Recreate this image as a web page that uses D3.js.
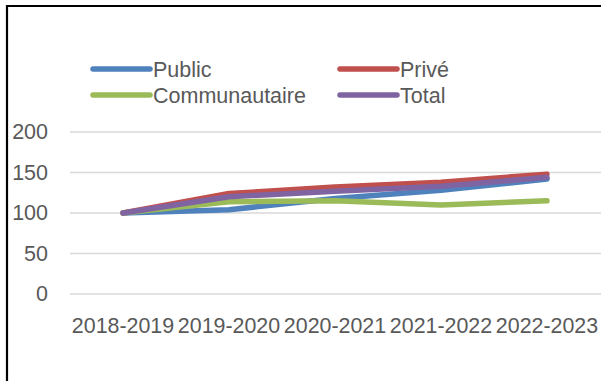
<!DOCTYPE html>
<html><head><meta charset="utf-8">
<script src="https://cdn.jsdelivr.net/npm/d3@7"></script>
<style>
html,body{margin:0;padding:0;background:#fff;}
svg{display:block;font-family:"Liberation Sans",Arial,sans-serif;}
</style></head>
<body>
<svg id="chart" width="601" height="381"></svg>
<script>
const categories = ["2018-2019","2019-2020","2020-2021","2021-2022","2022-2023"];
const seriesNames = ["Public","Privé","Communautaire","Total"];
const publicVals = [100,104,118,128,142];
const priveVals = [100,124,132,138,148];
const communautaireVals = [100,114,115,110,115];
const totalVals = [100,120,127,133,144];
const yTicks = [0,50,100,150,200];
const colors = ["#4F81BD","#C0504D","#9BBB59","#8064A2"];

const series = [publicVals, priveVals, communautaireVals, totalVals].map((v,i)=>({name:seriesNames[i], values:v, color:colors[i]}));

const svg = d3.select("#chart");
const x = d3.scaleBand().domain(categories).range([70,600]);
const y = d3.scaleLinear().domain([0,200]).range([294,132]);

// border (top & left visible)
svg.append("path").attr("d","M7,381 L7,6 L601,6").attr("fill","none").attr("stroke","#000").attr("stroke-width",2.2);

// gridlines
svg.append("g").selectAll("line").data(yTicks).join("line")
  .attr("x1",70).attr("x2",601)
  .attr("y1",d=>y(d)).attr("y2",d=>y(d))
  .attr("stroke","#d9d9d9").attr("stroke-width",1.5);

// y axis labels
const yAxis = d3.axisLeft(y).tickValues(yTicks).tickSize(0).tickPadding(0);
const gy = svg.append("g").attr("transform","translate(48,0)").call(yAxis);
gy.select(".domain").remove();
gy.selectAll("text").attr("fill","#595959").style("font-size","21.5px").style("font-family","Liberation Sans, Arial, sans-serif");

// x axis labels
const xAxis = d3.axisBottom(x).tickSize(0).tickPadding(0);
const gx = svg.append("g").attr("transform","translate(0,318)").call(xAxis);
gx.select(".domain").remove();
gx.selectAll("text").attr("fill","#595959").style("font-size","21.4px").style("font-family","Liberation Sans, Arial, sans-serif");

// lines
const line = d3.line().x((d,i)=>x(categories[i])+x.bandwidth()/2).y(d=>y(d));
svg.append("g").selectAll("path").data(series).join("path")
  .attr("d",d=>line(d.values))
  .attr("fill","none").attr("stroke",d=>d.color).attr("stroke-width",5.5)
  .attr("stroke-linecap","round").attr("stroke-linejoin","round");

// legend
const legPos = [[93,69],[340,69],[93,95],[340,95]];
const leg = svg.append("g").selectAll("g").data(series).join("g")
  .attr("transform",(d,i)=>`translate(${legPos[i][0]},${legPos[i][1]})`);
leg.append("line").attr("x1",0).attr("x2",57).attr("y1",0).attr("y2",0)
  .attr("stroke",d=>d.color).attr("stroke-width",5.5).attr("stroke-linecap","round");
leg.append("text").attr("x",60).attr("y",0).attr("dy","0.35em")
  .attr("fill","#595959").style("font-size","21.5px").text(d=>d.name);
</script>
</body></html>
